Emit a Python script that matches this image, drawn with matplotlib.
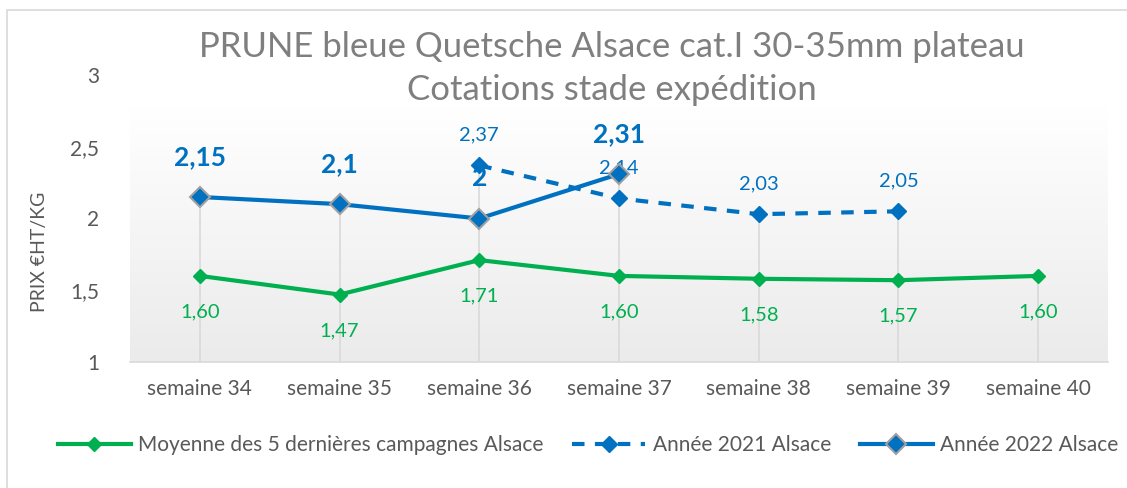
import numpy as np
import matplotlib.pyplot as plt
from matplotlib.patches import Rectangle
from matplotlib.colors import LinearSegmentedColormap

weeks = ["semaine 34", "semaine 35", "semaine 36", "semaine 37",
         "semaine 38", "semaine 39", "semaine 40"]
moyenne = [1.60, 1.47, 1.71, 1.60, 1.58, 1.57, 1.60]
annee_2021 = [None, None, 2.37, 2.14, 2.03, 2.05, None]
annee_2022 = [2.15, 2.10, 2.00, 2.31, None, None, None]

green = "#00B050"
blue = "#0070C0"
txt = "#595959"

plt.rcParams["font.family"] = ["Lato", "DejaVu Sans"]

fig = plt.figure(figsize=(11.27, 4.88), dpi=100)
W, H = 1127, 488
ax = fig.add_axes([130 / W, 1 - 362 / H, (1108 - 130) / W, (362 - 75) / H])

x = np.arange(len(weeks))
ax.set_xlim(-0.5, 6.5)
ax.set_ylim(1, 3)

# fond dégradé de la zone de traçage
grad = np.linspace(0, 1, 100).reshape(-1, 1)
cmap = LinearSegmentedColormap.from_list("g", ["#ebebeb", "#ffffff"])
ax.imshow(grad, extent=(-0.5, 6.5, 1, 2.78), aspect="auto", cmap=cmap,
          origin="lower", zorder=0)

# lignes de projection
for i in range(len(weeks)):
    vals = [v for v in (moyenne[i], annee_2021[i], annee_2022[i]) if v is not None]
    ax.vlines(i, 1, max(vals), color="#d9d9d9", lw=1.2, zorder=1)

m21 = np.array([np.nan if v is None else v for v in annee_2021])
m22 = np.array([np.nan if v is None else v for v in annee_2022])

l1, = ax.plot(x, moyenne, color=green, lw=3, marker="D", ms=7, zorder=3,
              label="Moyenne des 5 dernières campagnes Alsace")
l2, = ax.plot(x, m21, color=blue, lw=3, ls=(0, (3, 2.5)), marker="D", ms=8, zorder=3,
              label="Année 2021 Alsace")
l3, = ax.plot(x, m22, color=blue, lw=3, marker="D", ms=10, mec="#a0a0a0", mew=1.5, zorder=4,
              label="Année 2022 Alsace")

for i, v in enumerate(moyenne):
    ax.annotate(f"{v:.2f}".replace(".", ","), (i, v), xytext=(0, -26), textcoords="offset points",
                ha="center", va="center", color=green, fontsize=14.5)
for i, v in enumerate(annee_2021):
    if v is not None:
        ax.annotate(f"{v:.2f}".replace(".", ","), (i, v), xytext=(0, 22), textcoords="offset points",
                    ha="center", va="center", color=blue, fontsize=14.5)
for i, v in enumerate(annee_2022):
    if v is not None:
        lab = f"{v:g}".replace(".", ",")
        ax.annotate(lab, (i, v), xytext=(0, 29), textcoords="offset points",
                    ha="center", va="center", color=blue, fontsize=19, fontweight="bold")

ax.set_xticks(x)
ax.set_xticklabels(weeks, fontsize=15, color=txt)
ax.set_yticks([1, 1.5, 2, 2.5, 3])
ax.set_yticklabels(["1", "1,5", "2", "2,5", "3"], fontsize=15, color=txt)
ax.tick_params(length=0, pad=12)
ax.tick_params(axis="y", pad=22)
for s in ["top", "right", "left"]:
    ax.spines[s].set_visible(False)
ax.spines["bottom"].set_color("#d9d9d9")
ax.spines["bottom"].set_linewidth(1.2)

fig.text(40 / W, 1 - 252 / H, "PRIX €HT/KG", rotation=90, ha="center", va="center",
         fontsize=14, color=txt)

fig.text(612 / W, 1 - 47 / H, "PRUNE bleue Quetsche Alsace cat.I 30-35mm plateau",
         ha="center", va="center", fontsize=25, color="#7f7f7f")
fig.text(612 / W, 1 - 90 / H, "Cotations stade expédition",
         ha="center", va="center", fontsize=25, color="#7f7f7f")

fig.legend(handles=[l1, l2, l3], loc="center", bbox_to_anchor=(588 / W, 1 - 445 / H),
           ncol=3, frameon=False, fontsize=15, labelcolor=txt, handlelength=3.5,
           columnspacing=1.4, handletextpad=0.35)

fig.patches.append(Rectangle((7 / W, -0.1), 1.1, 1 - 10 / H + 0.1, transform=fig.transFigure,
                             fill=False, edgecolor="#d9d9d9", lw=1.2))

fig.savefig("out.png", dpi=100)
